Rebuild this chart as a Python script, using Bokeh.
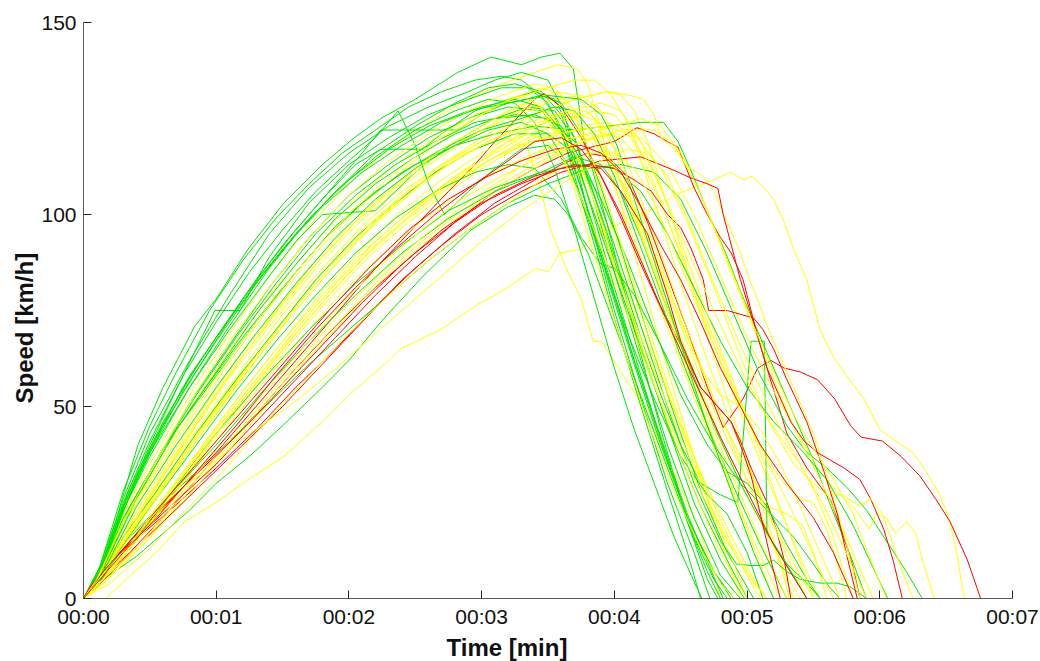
from bokeh.plotting import figure
from bokeh.models import FixedTicker, Title, ColumnDataSource
from bokeh.embed import file_html
from bokeh.resources import INLINE

# ---------------- axis data ----------------
x_ticks = [0, 1, 2, 3, 4, 5, 6, 7]
x_tick_labels = ["00:00", "00:01", "00:02", "00:03", "00:04", "00:05", "00:06", "00:07"]
y_ticks = [0, 50, 100, 150]
x_title = "Time [min]"
y_title = "Speed [km/h]"

# ---------------- runs: (time [min], speed [km/h]) ----------------
# green runs
g01 = [(0,0),(0.1,6),(0.25,21),(0.41,40),(0.6,55),(0.84,71),(1.0,78),(1.24,91),(1.51,103),(1.8,113),(2.04,120),(2.24,125),(2.5,130),(2.82,137),(3.07,141),(3.3,139),(3.45,141),(3.59,142),(3.69,138),(3.77,120),(3.95,97),(4.15,70),(4.35,44),(4.55,20),(4.7,5),(4.78,0)]
g02 = [(0,0),(0.12,8),(0.3,28),(0.5,45),(0.7,59),(0.95,75),(1.2,88),(1.45,99),(1.7,108),(1.95,116),(2.2,122),(2.45,128),(2.7,132),(2.95,135),(3.15,136),(3.3,135),(3.45,131),(3.58,124),(3.7,110),(3.85,92),(4.0,73),(4.2,50),(4.4,28),(4.55,12),(4.65,0)]
g03 = [(0,0),(0.15,10),(0.35,28),(0.55,42),(0.8,58),(1.0,68),(1.3,82),(1.6,95),(1.9,106),(2.2,116),(2.5,123),(2.8,129),(3.05,133),(3.25,134),(3.45,132),(3.6,126),(3.72,114),(3.85,99),(4.0,81),(4.2,58),(4.4,36),(4.6,16),(4.75,5),(4.85,0)]
g04 = [(0,0),(0.1,5),(0.3,24),(0.5,39),(0.75,55),(1.0,68),(1.3,83),(1.6,96),(1.9,108),(2.1,116),(2.24,122),(2.82,122),(3.0,126),(3.2,128),(3.45,127),(3.6,121),(3.75,107),(3.95,85),(4.15,62),(4.35,41),(4.55,21),(4.75,7),(4.9,0)]
g05 = [(0,0),(0.15,9),(0.35,27),(0.6,45),(0.9,62),(1.2,78),(1.5,92),(1.8,104),(2.05,113),(2.24,117),(2.55,117),(2.7,121),(2.95,127),(3.2,130),(3.4,132),(3.55,130),(3.7,120),(3.85,103),(4.0,85),(4.2,62),(4.4,40),(4.6,21),(4.8,6),(4.95,0)]
g06 = [(0,0),(0.12,7),(0.3,26),(0.5,43),(0.8,62),(1.1,79),(1.4,95),(1.7,107),(2.0,116),(2.3,123),(2.6,128),(2.9,132),(3.1,135),(3.3,137),(3.5,135),(3.62,127),(3.72,112),(3.85,94),(4.0,75),(4.2,52),(4.4,30),(4.6,12),(4.72,0)]
g07 = [(0,0),(0.15,8),(0.4,26),(0.7,44),(1.0,58),(1.3,72),(1.6,85),(1.9,97),(2.2,106),(2.5,113),(2.8,118),(3.1,121),(3.4,123),(3.7,122),(3.95,123),(4.2,124),(4.37,124),(4.48,119),(4.57,112),(4.7,101),(4.85,89),(4.95,80),(5.05,72),(5.2,60),(5.35,48),(5.5,36),(5.62,25),(5.77,12),(5.9,0)]
g08 = [(0,0),(0.1,4),(0.3,20),(0.5,33),(0.8,51),(1.1,66),(1.4,81),(1.7,94),(2.0,105),(2.3,113),(2.6,120),(2.9,125),(3.2,129),(3.45,131),(3.6,129),(3.75,121),(3.9,107),(4.05,91),(4.25,69),(4.45,48),(4.65,28),(4.85,12),(5.05,0)]
g09 = [(0,0),(0.12,7),(0.3,24),(0.5,40),(0.75,58),(0.99,75),(1.18,75),(1.4,89),(1.7,103),(2.0,113),(2.3,120),(2.6,126),(2.9,130),(3.15,133),(3.35,133),(3.5,129),(3.65,118),(3.8,101),(3.95,83),(4.15,61),(4.35,40),(4.55,21),(4.75,7),(4.88,0)]
g10 = [(0,0),(0.1,5),(0.3,24),(0.5,38),(0.8,55),(1.1,70),(1.4,84),(1.6,93),(1.8,100),(2.2,101),(2.5,111),(2.8,119),(3.1,125),(3.35,128),(3.55,127),(3.7,120),(3.85,105),(4.0,88),(4.2,66),(4.4,45),(4.6,25),(4.8,10),(4.98,0)]
g11 = [(0,0),(0.15,5),(0.4,11),(0.6,17),(0.8,23),(1.0,30),(1.25,37),(1.5,45),(1.8,55),(2.0,62),(2.24,72),(2.56,84),(2.92,96),(3.2,102),(3.4,105),(3.55,104),(3.65,100),(3.8,90),(3.95,76),(4.1,62),(4.25,48),(4.4,34),(4.55,20),(4.7,7),(4.8,0)]
g12 = [(0,0),(0.12,6),(0.35,16),(0.6,25),(0.85,33),(1.1,41),(1.4,51),(1.7,61),(2.0,70),(2.3,79),(2.6,88),(2.9,96),(3.2,103),(3.5,108),(3.8,112),(4.05,113),(4.3,111),(4.5,104),(4.7,90),(4.9,74),(5.1,58),(5.3,45),(5.45,38),(5.6,34),(5.75,29),(5.9,23),(6.05,15),(6.2,7),(6.32,0)]
g13 = [(0,0),(0.1,5),(0.3,21),(0.55,36),(0.85,53),(1.15,68),(1.45,82),(1.75,95),(2.05,105),(2.35,113),(2.65,119),(2.95,124),(3.25,126),(3.5,125),(3.7,119),(3.85,107),(4.0,92),(4.2,71),(4.4,50),(4.6,30),(4.8,15),(4.92,9),(5.02,8.6),(5.12,8.6),(5.2,10),(5.3,7),(5.4,5),(5.55,4),(5.68,4),(5.78,3),(5.9,0)]
g14 = [(0,0),(0.15,8),(0.4,26),(0.7,44),(1.0,59),(1.3,74),(1.6,87),(1.9,99),(2.2,108),(2.5,115),(2.8,121),(3.1,125),(3.4,126),(3.6,123),(3.75,114),(3.9,100),(4.05,84),(4.2,68),(4.35,53),(4.5,40),(4.65,30),(4.8,27),(4.93,25),(5.03,67),(5.13,67),(5.15,17),(5.3,9),(5.45,4),(5.55,0)]
g15 = [(0,0),(0.12,6),(0.35,24),(0.6,39),(0.9,54),(1.2,68),(1.5,81),(1.8,93),(2.1,103),(2.4,111),(2.7,117),(3.0,122),(3.3,125),(3.55,128),(3.7,127),(3.85,121),(4.0,110),(4.15,96),(4.3,82),(4.5,63),(4.7,45),(4.9,29),(5.1,14),(5.3,0)]
g16 = [(0,0),(0.1,4),(0.3,16),(0.55,28),(0.85,43),(1.15,57),(1.45,70),(1.75,83),(2.05,94),(2.35,103),(2.65,111),(2.95,117),(3.25,121),(3.5,121),(3.7,116),(3.9,104),(4.1,88),(4.3,70),(4.5,53),(4.7,40),(4.85,33),(5.0,30),(5.15,24),(5.3,14),(5.45,5),(5.55,0)]
g17 = [(0,0),(0.12,5),(0.35,15),(0.65,27),(1.0,40),(1.35,54),(1.7,67),(2.05,79),(2.4,90),(2.75,99),(3.1,106),(3.45,111),(3.75,113),(4.0,112),(4.2,106),(4.4,95),(4.6,81),(4.8,67),(5.0,55),(5.2,46),(5.4,39),(5.6,31),(5.8,19),(5.95,8),(6.06,0)]
g18 = [(0,0),(0.1,5),(0.3,23),(0.5,38),(0.75,54),(1.0,67),(1.3,82),(1.6,95),(1.9,106),(2.2,115),(2.5,122),(2.8,127),(3.05,130),(3.25,129),(3.4,124),(3.55,112),(3.7,96),(3.85,78),(4.0,60),(4.15,44),(4.3,30),(4.45,16),(4.58,6),(4.66,0)]
g19 = [(0,0),(0.15,7),(0.4,24),(0.7,40),(1.0,55),(1.3,69),(1.6,82),(1.9,94),(2.2,104),(2.5,112),(2.8,118),(3.05,122),(3.3,124),(3.5,121),(3.65,113),(3.8,99),(3.95,84),(4.1,69),(4.3,52),(4.5,37),(4.7,27),(4.85,22),(5.0,12),(5.12,0)]
g20 = [(0,0),(0.1,3),(0.35,13),(0.65,27),(1.0,43),(1.35,57),(1.7,70),(2.05,82),(2.4,92),(2.75,101),(3.1,107),(3.45,111),(3.7,115),(3.9,113),(4.05,106),(4.2,94),(4.35,80),(4.55,62),(4.75,45),(4.95,30),(5.15,17),(5.35,6),(5.45,0)]
g21 = [(0,0),(0.12,7),(0.3,25),(0.5,41),(0.75,58),(1.0,72),(1.25,85),(1.5,96),(1.75,106),(2.0,114),(2.2,120),(2.37,127),(2.5,118),(2.6,108),(2.72,100),(2.9,106),(3.1,112),(3.3,117),(3.5,118),(3.65,113),(3.8,100),(3.95,84),(4.15,62),(4.35,42),(4.55,22),(4.72,8),(4.82,0)]
g22 = [(0,0),(0.12,6),(0.3,23),(0.5,37),(0.8,55),(1.1,71),(1.4,86),(1.7,99),(2.0,109),(2.3,117),(2.6,123),(2.9,127),(3.2,129),(3.5,131),(3.75,130),(3.9,126),(4.02,118),(4.15,104),(4.3,88),(4.5,66),(4.7,45),(4.9,26),(5.05,12),(5.2,0)]
g23 = [(0,0),(0.1,3),(0.3,14),(0.55,26),(0.85,40),(1.15,54),(1.45,67),(1.75,79),(2.05,90),(2.35,99),(2.65,106),(2.95,111),(3.2,113),(3.4,112),(3.6,104),(3.75,94),(3.9,87),(4.0,86),(4.15,79),(4.35,66),(4.55,52),(4.75,40),(4.95,30),(5.15,23),(5.35,16),(5.5,9),(5.62,3),(5.7,0)]
g24 = [(0,0),(0.15,10),(0.35,29),(0.6,46),(0.9,63),(1.2,78),(1.5,91),(1.8,102),(2.1,111),(2.4,118),(2.7,124),(3.0,128),(3.25,130),(3.45,128),(3.6,122),(3.75,110),(3.9,95),(4.05,80),(4.25,60),(4.45,41),(4.65,24),(4.85,10),(5.0,0)]

# yellow runs
y01 = [(0,0),(0.17,0),(0.35,6),(0.55,12),(0.76,20),(1.0,25),(1.2,30),(1.51,37),(1.8,46),(2.0,53),(2.27,61),(2.39,65),(2.69,70),(2.99,77),(3.2,81),(3.32,84),(3.41,86),(3.5,85),(3.59,90),(3.75,91),(3.84,94),(4.0,97),(4.2,100),(4.33,102),(4.45,105),(4.6,107),(4.75,109),(4.87,111),(4.98,109),(5.03,110),(5.1,108),(5.2,104),(5.28,98),(5.35,91),(5.45,83),(5.55,70),(5.65,63),(5.75,58),(5.88,52),(6.0,44),(6.12,41),(6.25,38),(6.35,33),(6.45,27),(6.52,21),(6.58,12),(6.62,3),(6.64,0)]
y02 = [(0,0),(0.12,5),(0.35,19),(0.6,32),(0.9,46),(1.2,60),(1.5,74),(1.8,86),(2.1,97),(2.4,106),(2.7,113),(3.0,118),(3.2,120),(3.35,117),(3.45,106),(3.52,96),(3.65,85),(3.75,78),(3.84,67),(3.9,67),(4.05,59),(4.22,50),(4.35,40),(4.5,29),(4.65,17),(4.73,8),(4.8,0)]
y03 = [(0,0),(0.12,6),(0.3,22),(0.5,35),(0.8,53),(1.1,69),(1.4,84),(1.7,97),(2.0,108),(2.3,117),(2.6,124),(2.9,130),(3.15,134),(3.4,137),(3.57,139),(3.72,138),(3.8,134),(3.9,122),(4.02,106),(4.15,90),(4.3,72),(4.45,54),(4.6,37),(4.75,20),(4.88,7),(4.95,0)]
y04 = [(0,0),(0.15,6),(0.4,20),(0.7,35),(1.0,49),(1.3,63),(1.6,76),(1.9,88),(2.2,98),(2.5,107),(2.8,115),(3.1,121),(3.4,126),(3.7,130),(3.95,132),(4.05,131),(4.15,127),(4.25,119),(4.35,108),(4.47,95),(4.6,80),(4.75,63),(4.9,47),(5.05,31),(5.2,15),(5.32,0)]
y05 = [(0,0),(0.1,4),(0.3,15),(0.55,29),(0.85,45),(1.15,60),(1.45,73),(1.75,86),(2.05,97),(2.35,106),(2.65,114),(2.95,121),(3.25,126),(3.5,130),(3.65,129),(3.8,123),(3.95,112),(4.1,98),(4.25,84),(4.45,66),(4.65,48),(4.85,31),(5.05,15),(5.25,0)]
y06 = [(0,0),(0.12,5),(0.35,17),(0.6,30),(0.9,45),(1.2,59),(1.5,72),(1.8,85),(2.1,96),(2.4,105),(2.7,113),(3.0,120),(3.3,126),(3.55,130),(3.75,131),(3.9,127),(4.05,118),(4.2,104),(4.35,90),(4.55,70),(4.75,52),(4.95,35),(5.15,18),(5.3,6),(5.4,0)]
y07 = [(0,0),(0.1,3),(0.35,14),(0.65,27),(0.95,41),(1.25,54),(1.55,67),(1.85,79),(2.15,90),(2.45,99),(2.75,107),(3.05,114),(3.35,120),(3.6,124),(3.85,127),(4.0,126),(4.15,120),(4.3,108),(4.45,94),(4.65,75),(4.85,57),(5.05,40),(5.25,23),(5.42,9),(5.55,0)]
y08 = [(0,0),(0.15,5),(0.4,16),(0.7,30),(1.0,44),(1.3,57),(1.6,70),(1.9,82),(2.2,93),(2.5,102),(2.8,110),(3.1,117),(3.35,122),(3.6,126),(3.75,125),(3.9,119),(4.05,108),(4.2,95),(4.4,77),(4.6,59),(4.8,42),(4.95,30),(5.1,20),(5.22,12),(5.35,0)]
y09 = [(0,0),(0.12,6),(0.3,19),(0.55,33),(0.85,49),(1.15,64),(1.45,78),(1.75,90),(2.05,101),(2.35,110),(2.65,118),(2.95,125),(3.2,130),(3.45,133),(3.6,131),(3.72,124),(3.85,111),(4.0,95),(4.15,79),(4.35,59),(4.55,40),(4.75,22),(4.9,9),(5.0,0)]
y10 = [(0,0),(0.15,4),(0.45,14),(0.75,25),(1.05,37),(1.35,49),(1.65,61),(1.95,72),(2.25,83),(2.55,92),(2.85,100),(3.15,107),(3.45,113),(3.7,118),(3.9,121),(4.05,120),(4.2,114),(4.35,103),(4.5,90),(4.7,72),(4.9,55),(5.1,40),(5.25,31),(5.4,26),(5.5,25),(5.6,18),(5.68,9),(5.75,0)]
y11 = [(0,0),(0.1,5),(0.3,17),(0.55,31),(0.85,47),(1.15,62),(1.45,75),(1.75,88),(2.05,99),(2.35,108),(2.65,116),(2.95,122),(3.15,126),(3.35,129),(3.5,127),(3.65,120),(3.8,108),(3.95,94),(4.1,80),(4.3,62),(4.5,45),(4.7,29),(4.9,15),(5.05,5),(5.15,0)]
y12 = [(0,0),(0.12,4),(0.35,13),(0.65,26),(0.95,40),(1.25,53),(1.55,66),(1.85,78),(2.15,89),(2.45,98),(2.75,106),(3.05,113),(3.3,118),(3.55,121),(3.75,122),(3.9,118),(4.05,109),(4.2,97),(4.4,80),(4.6,62),(4.8,45),(5.0,31),(5.15,24),(5.3,22),(5.42,19),(5.52,10),(5.6,0)]
y13 = [(0,0),(0.12,6),(0.3,20),(0.55,35),(0.85,52),(1.15,67),(1.45,81),(1.75,93),(2.05,104),(2.35,113),(2.65,120),(2.95,126),(3.25,130),(3.5,133),(3.7,135),(3.85,135),(3.98,131),(4.1,124),(4.22,112),(4.35,98),(4.5,82),(4.7,62),(4.9,44),(5.1,27),(5.3,11),(5.45,0)]
y14 = [(0,0),(0.15,6),(0.4,19),(0.7,34),(1.0,48),(1.3,62),(1.6,75),(1.9,87),(2.2,98),(2.5,107),(2.8,115),(3.1,121),(3.4,126),(3.7,130),(3.95,132),(4.12,131),(4.22,130),(4.3,126),(4.35,120),(4.45,117),(4.57,112),(4.67,110),(4.75,106),(4.85,98),(4.95,90),(5.02,83),(5.1,76),(5.15,71),(5.25,63),(5.35,55),(5.5,43),(5.62,30),(5.75,14),(5.85,0)]
y15 = [(0,0),(0.15,5),(0.4,15),(0.7,28),(1.0,41),(1.3,54),(1.6,66),(1.9,78),(2.2,88),(2.5,97),(2.8,105),(3.1,111),(3.4,116),(3.7,120),(4.0,123),(4.2,125),(4.35,123),(4.5,116),(4.65,105),(4.8,92),(4.95,79),(5.1,66),(5.25,53),(5.4,41),(5.55,31),(5.7,20),(5.82,10),(5.95,0)]
y16 = [(0,0),(0.15,4),(0.45,14),(0.75,26),(1.05,38),(1.35,50),(1.65,62),(1.95,73),(2.25,84),(2.55,93),(2.85,101),(3.15,108),(3.45,114),(3.75,119),(4.0,121),(4.2,120),(4.4,113),(4.6,100),(4.8,84),(5.0,68),(5.2,54),(5.4,42),(5.55,33),(5.7,27),(5.82,23),(5.92,18),(5.97,22),(6.05,21),(6.12,17),(6.2,20),(6.27,17),(6.33,9),(6.41,0)]
y17 = [(0,0),(0.12,4),(0.4,15),(0.7,29),(1.0,43),(1.3,56),(1.6,69),(1.9,81),(2.2,92),(2.5,101),(2.8,109),(3.1,115),(3.4,120),(3.7,123),(3.95,124),(4.15,121),(4.35,112),(4.55,98),(4.75,81),(4.95,63),(5.15,47),(5.35,35),(5.5,30),(5.6,27),(5.72,27),(5.85,24),(5.93,26),(6.02,22),(6.1,14),(6.18,6),(6.25,0)]
y18 = [(0,0),(0.1,4),(0.3,16),(0.55,30),(0.85,46),(1.15,61),(1.45,74),(1.75,87),(2.05,98),(2.35,107),(2.65,115),(2.95,121),(3.15,125),(3.35,128),(3.5,126),(3.65,118),(3.8,105),(3.95,91),(4.1,77),(4.3,59),(4.5,42),(4.7,26),(4.9,12),(5.1,0)]
y19 = [(0,0),(0.15,5),(0.45,15),(0.75,27),(1.05,39),(1.35,51),(1.65,63),(1.95,75),(2.25,85),(2.55,94),(2.85,102),(3.15,109),(3.4,115),(3.6,120),(3.78,120),(3.95,115),(4.1,106),(4.25,94),(4.45,77),(4.65,60),(4.85,44),(5.05,30),(5.25,16),(5.4,6),(5.5,0)]
y20 = [(0,0),(0.1,3),(0.35,14),(0.6,26),(0.9,40),(1.2,54),(1.5,67),(1.8,80),(2.1,91),(2.4,101),(2.7,109),(3.0,116),(3.25,121),(3.5,124),(3.75,126),(3.88,124),(4.0,117),(4.12,104),(4.25,90),(4.4,74),(4.6,55),(4.8,37),(5.0,18),(5.2,0)]
y21 = [(0,0),(0.12,5),(0.35,18),(0.6,32),(0.9,48),(1.2,63),(1.5,77),(1.8,89),(2.1,100),(2.4,109),(2.7,117),(3.0,123),(3.25,128),(3.55,132),(3.72,131),(3.85,125),(4.0,113),(4.15,99),(4.3,85),(4.5,66),(4.7,48),(4.9,31),(5.1,15),(5.3,0)]
y22 = [(0,0),(0.12,4),(0.4,15),(0.7,29),(1.0,43),(1.3,56),(1.6,69),(1.9,81),(2.2,92),(2.5,101),(2.8,109),(3.1,115),(3.4,119),(3.7,122),(3.95,123),(4.1,121),(4.25,114),(4.4,103),(4.55,91),(4.75,75),(4.95,60),(5.1,50),(5.25,42),(5.4,35),(5.52,27),(5.64,17),(5.72,8),(5.8,0)]
y23 = [(0,0),(0.1,5),(0.3,20),(0.5,33),(0.8,51),(1.1,67),(1.4,81),(1.7,94),(2.0,105),(2.3,114),(2.6,121),(2.9,127),(3.15,131),(3.4,134),(3.55,133),(3.68,128),(3.8,118),(3.95,103),(4.1,87),(4.3,66),(4.5,46),(4.7,28),(4.9,13),(5.05,4),(5.15,0)]
y24 = [(0,0),(0.2,4),(0.5,13),(0.8,24),(1.1,35),(1.4,47),(1.7,58),(2.0,69),(2.3,79),(2.6,88),(2.9,96),(3.2,103),(3.5,110),(3.8,116),(4.0,116),(4.15,112),(4.3,103),(4.45,91),(4.65,74),(4.85,58),(5.05,43),(5.25,29),(5.45,15),(5.58,5),(5.65,0)]
y25 = [(0,0),(0.1,4),(0.35,16),(0.65,31),(0.95,46),(1.25,60),(1.55,73),(1.85,85),(2.15,96),(2.45,105),(2.75,113),(3.05,119),(3.35,124),(3.65,127),(3.9,129),(4.05,127),(4.2,119),(4.35,107),(4.5,93),(4.7,74),(4.9,56),(5.1,38),(5.3,19),(5.5,0)]
y26 = [(0,0),(0.15,5),(0.4,16),(0.7,30),(1.0,44),(1.3,57),(1.6,70),(1.9,82),(2.2,93),(2.5,102),(2.8,110),(3.1,116),(3.35,121),(3.5,123),(3.62,121),(3.75,113),(3.88,100),(4.02,85),(4.2,66),(4.4,46),(4.6,28),(4.8,12),(5.0,0)]
y27 = [(0,0),(0.12,5),(0.35,17),(0.65,32),(0.95,47),(1.25,61),(1.55,74),(1.85,86),(2.15,97),(2.45,106),(2.75,113),(3.05,119),(3.35,123),(3.6,126),(3.78,127),(3.92,123),(4.05,114),(4.2,101),(4.35,87),(4.5,72),(4.65,60),(4.8,53),(4.95,50),(5.1,44),(5.25,35),(5.4,24),(5.55,12),(5.7,0)]
y28 = [(0,0),(0.15,5),(0.4,15),(0.76,29),(1.0,36),(1.25,43),(1.51,49),(1.8,57),(2.1,66),(2.4,75),(2.7,84),(3.0,93),(3.3,101),(3.6,108),(3.9,114),(4.1,117),(4.25,116),(4.4,110),(4.55,99),(4.75,82),(4.95,66),(5.15,51),(5.35,38),(5.55,26),(5.72,14),(5.9,0)]
y29 = [(0,0),(0.12,6),(0.3,20),(0.55,34),(0.85,50),(1.15,65),(1.45,79),(1.75,91),(2.05,102),(2.35,111),(2.65,119),(2.95,125),(3.15,129),(3.3,131),(3.45,128),(3.58,119),(3.72,104),(3.88,86),(4.05,67),(4.25,46),(4.45,28),(4.65,13),(4.8,4),(4.9,0)]
y30 = [(0,0),(0.15,4),(0.45,15),(0.75,28),(1.05,41),(1.35,53),(1.65,65),(1.95,77),(2.25,87),(2.55,96),(2.85,104),(3.15,110),(3.45,115),(3.75,119),(4.05,122),(4.3,122),(4.45,118),(4.6,109),(4.75,97),(4.9,84),(5.05,71),(5.2,59),(5.35,48),(5.5,39),(5.65,31),(5.8,22),(5.92,11),(6.05,0)]
y31 = [(0,0),(0.1,3),(0.35,14),(0.6,26),(0.9,40),(1.2,54),(1.5,67),(1.8,79),(2.1,90),(2.4,99),(2.7,107),(3.0,114),(3.2,119),(3.35,121),(3.5,119),(3.65,112),(3.8,100),(3.95,87),(4.15,69),(4.35,51),(4.55,35),(4.75,21),(4.95,9),(5.15,0)]

# red runs
r01 = [(0,0),(0.05,3),(0.2,10),(0.45,17),(0.75,26),(1.0,34),(1.3,44),(1.6,55),(1.9,65),(2.2,76),(2.5,86),(2.8,95),(3.1,103),(3.4,109),(3.6,113),(3.8,116),(3.95,115),(4.1,110),(4.25,98),(4.4,84),(4.55,70),(4.7,55),(4.82,44.5),(4.97,52),(5.08,60),(5.18,62),(5.28,60),(5.4,59),(5.53,57),(5.66,52),(5.78,45),(5.86,42),(6.02,41),(6.16,37),(6.3,32),(6.42,26),(6.53,20),(6.66,10),(6.76,0)]
r02 = [(0,0),(0.1,4),(0.35,12),(0.65,23),(1.0,37),(1.3,48),(1.6,60),(1.9,71),(2.2,81),(2.5,90),(2.8,98),(3.1,106),(3.4,112),(3.65,116),(3.82,117.5),(4.0,119),(4.17,122.6),(4.3,121),(4.4,119),(4.48,117.5),(4.52,114),(4.6,107),(4.7,100),(4.8,94),(4.88,90),(4.97,83),(5.06,71),(5.15,60),(5.3,43),(5.45,34),(5.63,25.5),(5.73,16),(5.8,8),(5.85,0)]
r03 = [(0,0),(0.05,2),(0.2,9),(0.45,18),(0.75,29),(1.0,38),(1.3,50),(1.6,62),(1.9,74),(2.2,86),(2.5,97),(2.75,106),(2.95,113),(3.1,119),(3.25,124.5),(3.4,130),(3.47,131.5),(3.6,128),(3.75,120),(3.9,110),(4.05,100),(4.2,88),(4.35,76),(4.5,66),(4.65,55),(4.88,46),(4.95,41),(5.03,34),(5.15,25),(5.22,18),(5.28,10),(5.33,0)]
r04 = [(0,0),(0.1,3),(0.3,10),(0.6,20),(0.9,30),(1.2,40),(1.5,50),(1.8,61),(2.1,72),(2.4,83),(2.7,92),(3.0,100),(3.3,106),(3.6,111),(3.9,114),(4.2,115),(4.45,111.5),(4.57,109.6),(4.7,108),(4.78,106.8),(4.82,100),(4.95,83),(5.03,74),(5.15,60),(5.33,46),(5.43,41),(5.53,38),(5.73,34),(5.85,31),(5.93,26),(6.03,18),(6.1,10),(6.17,0)]
r05 = [(0,0),(0.08,4),(0.3,13),(0.6,24),(0.9,34),(1.2,44),(1.5,55),(1.8,66),(2.1,77),(2.4,87),(2.7,96),(3.0,103),(3.3,108),(3.6,112),(3.82,113),(4.0,112),(4.15,109),(4.28,106),(4.4,100),(4.5,96.6),(4.58,91),(4.67,83),(4.71,75),(4.85,75),(4.95,74),(5.05,73),(5.12,70),(5.2,65),(5.3,57),(5.45,46),(5.58,33),(5.68,22),(5.76,10),(5.83,0)]
r06 = [(0,0),(0.05,3),(0.25,11),(0.5,19),(0.75,27),(1.0,35),(1.3,46),(1.6,57),(1.9,68),(2.2,79),(2.5,89),(2.8,98),(3.1,105),(3.4,110),(3.7,113),(3.9,112),(4.05,106),(4.25,95),(4.4,79),(4.5,67),(4.65,55),(4.88,46),(4.95,40),(5.03,32),(5.1,22),(5.18,10),(5.25,0)]
r07 = [(0,0),(0.1,5),(0.35,15),(0.65,27),(0.95,39),(1.25,51),(1.55,63),(1.85,75),(2.15,86),(2.45,96),(2.75,104),(3.05,110),(3.3,114),(3.55,117),(3.75,118),(3.9,116),(4.05,111),(4.2,102),(4.35,92),(4.5,83),(4.65,72),(4.8,60),(4.95,50),(5.1,40),(5.3,30),(5.5,21),(5.65,12),(5.8,0)]
r08 = [(0,0),(0.1,4),(0.3,12),(0.55,21),(0.85,33),(1.15,45),(1.45,58),(1.75,70),(2.05,81),(2.35,91),(2.65,100),(2.95,108),(3.2,114),(3.4,119),(3.6,120),(3.75,117),(3.9,110),(4.05,99),(4.2,87),(4.4,72),(4.6,57),(4.8,42),(5.0,28),(5.2,14),(5.45,0)]

green_runs = [g01, g02, g03, g04, g05, g06, g07, g08, g09, g10, g11, g12,
              g13, g14, g15, g16, g17, g18, g19, g20, g21, g22, g23, g24]
yellow_runs = [y01, y02, y03, y04, y05, y06, y07, y08, y09, y10, y11, y12, y13, y14, y15, y16,
               y17, y18, y19, y20, y21, y22, y23, y24, y25, y26, y27, y28, y29, y30, y31]
red_runs = [r01, r02, r03, r04, r05, r06, r07, r08]

GREEN = "#00e600"
YELLOW = "#ffff00"
RED = "#ff0000"

# interleave drawing order
ordered = []
ri = 0
n = max(len(green_runs), len(yellow_runs))
for i in range(n):
    if i < len(yellow_runs):
        ordered.append((yellow_runs[i], YELLOW))
    if i < len(green_runs):
        ordered.append((green_runs[i], GREEN))
    if i % 4 == 3 and ri < len(red_runs):
        ordered.append((red_runs[ri], RED))
        ri += 1
while ri < len(red_runs):
    ordered.append((red_runs[ri], RED))
    ri += 1

xs = [[pt[0] for pt in run] for run, c in ordered]
ys = [[pt[1] for pt in run] for run, c in ordered]
cs = [c for run, c in ordered]
src = ColumnDataSource(dict(xs=xs, ys=ys, color=cs))

p = figure(width=1040, height=661, x_range=(0, 7), y_range=(0, 150),
           output_backend="svg", toolbar_location=None,
           min_border_left=83, min_border_right=28, min_border_top=22, min_border_bottom=63)
p.background_fill_color = "white"
p.border_fill_color = "white"
p.outline_line_color = None
p.xgrid.grid_line_color = None
p.ygrid.grid_line_color = None

p.multi_line(xs="xs", ys="ys", line_color="color", line_width=1, source=src)

p.xaxis.ticker = FixedTicker(ticks=x_ticks)
p.xaxis.major_label_overrides = {t: lab for t, lab in zip(x_ticks, x_tick_labels)}
p.yaxis.ticker = FixedTicker(ticks=y_ticks)

for ax in (p.xaxis, p.yaxis):
    ax.axis_line_color = "#5a5a5a"
    ax.axis_line_width = 1
    ax.major_tick_line_color = "#262626"
    ax.major_tick_in = 8
    ax.major_tick_out = 0
    ax.minor_tick_line_color = None
    ax.major_label_text_font = "Liberation Sans"
    ax.major_label_text_font_size = "21px"
    ax.major_label_text_color = "#111111"
p.yaxis.major_label_standoff = 7
p.xaxis.major_label_standoff = 6

p.add_layout(Title(text=x_title, align="left", offset=363, standoff=2,
                   text_font="Liberation Sans", text_font_size="24px",
                   text_font_style="bold", text_color="#111111"), "below")
p.add_layout(Title(text=y_title, align="left", offset=195, standoff=2,
                   text_font="Liberation Sans", text_font_size="24px",
                   text_font_style="bold", text_color="#111111"), "left")

open("out.html", "w").write(file_html(p, INLINE))
